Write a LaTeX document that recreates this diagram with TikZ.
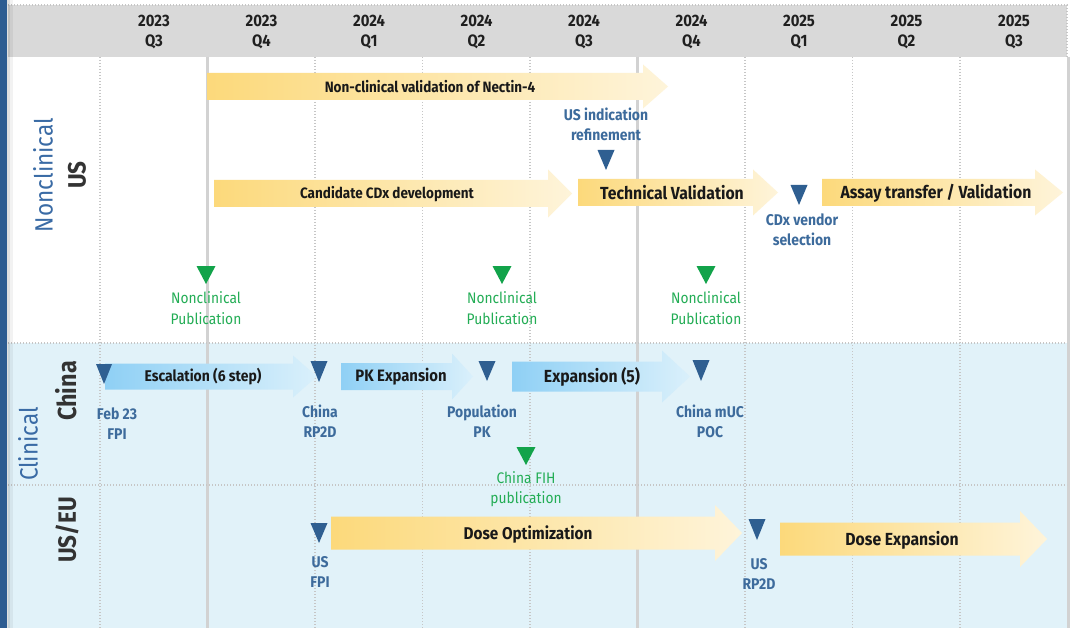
\documentclass[tikz,border=0pt]{standalone}
\usepackage{fontspec}
\setmainfont[FakeStretch=0.9]{Fira Sans}
\usetikzlibrary{calc}

\definecolor{barblue}{HTML}{2D5C91}
\definecolor{headgray}{HTML}{D9D9D9}
\definecolor{clinbg}{HTML}{E1F2F9}
\definecolor{gridgray}{HTML}{C6C6C6}
\definecolor{solidgray}{HTML}{D2D2D2}
\definecolor{mileblue}{HTML}{2F5F91}
\definecolor{tagblue}{HTML}{3D6B9C}
\definecolor{milegreen}{HTML}{12A34A}
\definecolor{taggreen}{HTML}{23AD55}
\definecolor{yellowL}{HTML}{FCD97B}
\definecolor{yellowR}{HTML}{FEF4DA}
\definecolor{blueL}{HTML}{8FD0F5}
\definecolor{blueR}{HTML}{DAF0FB}
\definecolor{grouptext}{HTML}{3A6BA5}
\definecolor{rowtext}{HTML}{333333}

\def\colw{107.5}
\def\gridtop{57}

% phase bar: style, x start, x head, x tip, y centre, body half, head half
\newcommand{\phasebar}[7]{%
  \shade[#1] (#2,#5-#6) -- (#3,#5-#6) -- (#3,#5-#7) -- (#4,#5)
    -- (#3,#5+#7) -- (#3,#5+#6) -- (#2,#5+#6) -- cycle;}
% milestone: colour, x, y top, half width, height
\newcommand{\milestone}[5]{%
  \fill[#1] (#2-#4,#3) -- (#2+#4,#3) -- (#2,#3+#5) -- cycle;}

\begin{document}
\begin{tikzpicture}[x=1pt,y=-1pt,
    gridline/.style={gridgray, line width=1.2pt, dash pattern=on 1.4pt off 1.6pt},
    yearline/.style={solidgray, line width=3pt},
    quarter/.style={align=center, text=black!88, inner sep=0,
      font=\bfseries\fontsize{16.5}{20}\selectfont},
    bartext/.style={text=black!90, inner sep=0,
      font=\bfseries\fontsize{15}{18}\selectfont},
    yellowbar/.style={left color=yellowL, right color=yellowR},
    bluebar/.style={left color=blueL, right color=blueR},
    bluetag/.style={align=center, text=tagblue, inner sep=0,
      font=\bfseries\fontsize{15.5}{20}\selectfont},
    greentag/.style={align=center, text=taggreen, inner sep=0,
      font=\fontsize{15.3}{20.5}\selectfont},
    grouplabel/.style={rotate=90, text=grouptext, inner sep=0,
      font=\fontsize{25}{28}\selectfont},
    rowlabel/.style={rotate=90, text=rowtext, inner sep=0,
      font=\bfseries\fontsize{25}{28}\selectfont}]

  \useasboundingbox (0,0) rectangle (1075,628);
  \fill[white] (0,0) rectangle (1075,628);

  % panels
  \fill[clinbg] (8,343) rectangle (1067,628);
  \fill[headgray] (8,5) rectangle (1067,57);
  \draw[gridline] (8,5) -- (1067,5) -- (1067,57);

  % quarter grid
  \foreach \gx in {100,315,422.5,530,745,852.5,960}
    \draw[gridline] (\gx,\gridtop) -- (\gx,628);
  \foreach \gx in {207.5,637.5,1068.5}
    \draw[yearline] (\gx,\gridtop) -- (\gx,628);
  \foreach \gy in {343,485}
    \draw[gridline] (8,\gy) -- (1067,\gy);

  % left bar
  \fill[barblue] (0,0) rectangle (7,628);
  \fill[black, opacity=0.12] (7,0) rectangle (10,628);
  \fill[black, opacity=0.05] (10,0) rectangle (13,628);

  % quarters
  \foreach \yr/\qt [count=\i from 0] in {2023/Q3,2023/Q4,2024/Q1,2024/Q2,2024/Q3,2024/Q4,2025/Q1,2025/Q2,2025/Q3}
    \node[quarter] (q\i) at (154+\colw*\i,32) {\yr\\\qt};

  % section labels
  \node[grouplabel] (gNonclin) at (43,175) {Nonclinical};
  \node[rowlabel] (rUS) at (77,175) {US};
  \node[grouplabel] (gClin) at (28,444) {Clinical};
  \node[rowlabel, font=\bfseries\fontsize{26}{28}\selectfont] (rChina) at (66,391) {China};
  \node[rowlabel] (rUSEU) at (67,530) {US/EU};

  % nonclinical bars
  \phasebar{yellowbar}{207}{643}{668}{86.5}{13.5}{22}
  \phasebar{yellowbar}{214}{548}{572}{193.5}{13.5}{24}
  \phasebar{yellowbar}{578}{753}{778}{192.5}{13.5}{23}
  \phasebar{yellowbar}{822}{1035}{1063}{192.5}{13.5}{23}
  \node[bartext] (tNectin) at (430,87) {Non-clinical validation of Nectin-4};
  \node[bartext] (tCandidate) at (387,194) {Candidate CDx development};
  \node[bartext, font=\bfseries\fontsize{17.5}{20}\selectfont] (tTechnical) at (672,193) {Technical Validation};
  \node[bartext, font=\bfseries\fontsize{17.5}{20}\selectfont] (tAssay) at (936,193) {Assay transfer / Validation};

  % clinical bars
  \phasebar{bluebar}{105}{293}{317}{376.5}{13}{21}
  \phasebar{bluebar}{341}{452}{473}{376.5}{13.5}{23}
  \phasebar{bluebar}{512}{662}{690}{376.5}{15}{26}
  \phasebar{yellowbar}{331}{715}{742}{533}{16.5}{28}
  \phasebar{yellowbar}{780}{1020}{1047}{539}{16.5}{28}
  \node[bartext, font=\bfseries\fontsize{15.5}{18}\selectfont] (tEscalation) at (203,377) {Escalation (6 step)};
  \node[bartext, font=\bfseries\fontsize{16.5}{20}\selectfont] (tPK) at (401,377) {PK Expansion};
  \node[bartext, font=\bfseries\fontsize{17.5}{20}\selectfont] (tExpansion) at (592,377) {Expansion (5)};
  \node[bartext, font=\bfseries\fontsize{17}{20}\selectfont] (tDoseOpt) at (528,534) {Dose Optimization};
  \node[bartext, font=\bfseries\fontsize{17.5}{20}\selectfont] (tDoseExp) at (902,540) {Dose Expansion};

  % milestones
  \milestone{mileblue}{606}{150}{8.5}{20}
  \milestone{mileblue}{799}{185}{8.5}{20}
  \milestone{mileblue}{104}{364}{8}{20}
  \milestone{mileblue}{319}{361}{8.5}{21}
  \milestone{mileblue}{487}{361}{8.5}{20}
  \milestone{mileblue}{701}{360}{8.5}{21}
  \milestone{mileblue}{319}{523}{8.5}{20}
  \milestone{mileblue}{757}{519}{8.5}{21}
  \foreach \mx in {206,502,706}{
    \milestone{milegreen}{\mx}{266}{9.5}{18}
  }
  \milestone{milegreen}{526}{447}{9.5}{18}

  \node[bluetag] (lIndication) at (606,124) {US indication\\refinement};
  \node[bluetag] (lVendor) at (802,230) {CDx vendor\\selection};
  \node[bluetag] (lFPI) at (117,424) {Feb 23\\FPI};
  \node[bluetag] (lChinaRP2D) at (320,421) {China\\RP2D};
  \node[bluetag] (lPopPK) at (482,421) {Population\\PK};
  \node[bluetag] (lPOC) at (710,421) {China mUC\\POC};
  \node[bluetag] (lUSFPI) at (320,572) {US\\FPI};
  \node[bluetag] (lUSRP2D) at (759,574) {US\\RP2D};
  \foreach \mx [count=\k] in {206,502,706}
    \node[greentag] (lPub\k) at (\mx,308) {Nonclinical\\Publication};
  \node[greentag] (lFIH) at (526,489) {China FIH\\publication};
\end{tikzpicture}
\end{document}
